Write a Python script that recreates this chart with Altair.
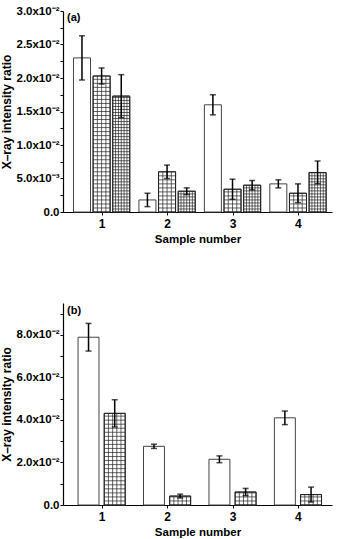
import altair as alt
import pandas as pd

# ---------------- data ----------------
samples = [1, 2, 3, 4]

# panel (a)
a_white = [0.0230, 0.0018, 0.0160, 0.0042]
a_white_err = [0.0033, 0.0010, 0.0015, 0.0006]
a_grid = [0.0203, 0.0060, 0.0034, 0.0028]
a_grid_err = [0.0012, 0.0010, 0.0015, 0.0014]
a_dense = [0.0173, 0.0031, 0.0040, 0.0059]
a_dense_err = [0.0032, 0.0005, 0.0007, 0.0017]
a_yticks = [0.0, 0.0025, 0.005, 0.0075, 0.01, 0.0125, 0.015, 0.0175,
            0.02, 0.0225, 0.025, 0.0275, 0.03]

# panel (b)
b_white = [0.0789, 0.0276, 0.0215, 0.0410]
b_white_err = [0.0065, 0.0010, 0.0016, 0.0032]
b_grid = [0.0431, 0.0042, 0.0061, 0.0049]
b_grid_err = [0.0064, 0.0009, 0.0017, 0.0035]
b_yticks = [0.0, 0.01, 0.02, 0.03, 0.04, 0.05, 0.06, 0.07, 0.08, 0.09]

FONT = "Liberation Sans"
XDOM = [0.41, 4.52]
W = 269


def bars(offset, half_w, values):
    return pd.DataFrame({
        "x": [s + offset - half_w for s in samples],
        "x2": [s + offset + half_w for s in samples],
        "y": [0.0] * len(values),
        "y2": values,
    })


def errs(offset, values, errors):
    return pd.DataFrame({
        "x": [s + offset for s in samples],
        "y": [v - e for v, e in zip(values, errors)],
        "y2": [v + e for v, e in zip(values, errors)],
    })


def caps(offset, values, errors):
    xs = [s + offset for s in samples]
    return pd.DataFrame({
        "x": xs + xs,
        "y": [v - e for v, e in zip(values, errors)] + [v + e for v, e in zip(values, errors)],
    })


def hatch(offset, half_w, values, ncols, dy):
    rows = []
    for s, v in zip(samples, values):
        x0, x1 = s + offset - half_w, s + offset + half_w
        step = (x1 - x0) / ncols
        for k in range(1, ncols):
            xx = x0 + k * step
            rows.append({"x": xx, "x2": xx, "y": 0.0, "y2": v})
        j = 1
        while j * dy < v - 1e-12:
            rows.append({"x": x0, "x2": x1, "y": j * dy, "y2": j * dy})
            j += 1
    return pd.DataFrame(rows)


def panel(series, ydom, height, yticks, label_expr, tag, tag_y):
    xenc = alt.X("x:Q", scale=alt.Scale(domain=XDOM, nice=False, zero=False),
                 axis=alt.Axis(values=samples, title="Sample number", format="d",
                               tickSize=3, labelPadding=3, titlePadding=4,
                               labelFontSize=12, titleFontSize=11.5))
    yenc = alt.Y("y:Q", scale=alt.Scale(domain=ydom, nice=False),
                 axis=alt.Axis(values=yticks, labelExpr=label_expr, labelOverlap=False,
                               title="X\u2013ray intensity ratio",
                               tickSize=3, labelPadding=1, titlePadding=2,
                               labelFontSize=11.5, titleFontSize=12))
    layers = []
    for (offset, half_w, vals, errv, ncols, dy) in series:
        bdf = bars(offset, half_w, vals)
        layers.append(alt.Chart(bdf).mark_bar(fill="white", stroke="#444", strokeWidth=1)
                      .encode(x=xenc, x2="x2:Q", y=yenc, y2="y2:Q"))
        if ncols:
            hdf = hatch(offset, half_w, vals, ncols, dy)
            layers.append(alt.Chart(hdf).mark_rule(color="#222", strokeWidth=0.7)
                          .encode(x=xenc, x2="x2:Q", y=yenc, y2="y2:Q"))
            layers.append(alt.Chart(bdf).mark_bar(fill=None, stroke="#222", strokeWidth=1)
                          .encode(x=xenc, x2="x2:Q", y=yenc, y2="y2:Q"))
        edf = errs(offset, vals, errv)
        layers.append(alt.Chart(edf).mark_rule(color="black", strokeWidth=1.5)
                      .encode(x=xenc, y=yenc, y2="y2:Q"))
        cdf = caps(offset, vals, errv)
        layers.append(alt.Chart(cdf).mark_tick(color="black", thickness=1.5, size=6,
                                               orient="horizontal")
                      .encode(x=xenc, y=yenc))
    layers.append(alt.Chart(pd.DataFrame({"t": [tag]})).mark_text(
        align="left", baseline="middle", font=FONT, fontWeight="bold", fontSize=11,
        color="black").encode(x=alt.value(4), y=alt.value(tag_y), text="t:N"))
    return alt.layer(*layers).properties(width=W, height=height)


a_expr = ("datum.value == 0 ? '0.0' : (abs(datum.value / 0.005 - round(datum.value / 0.005)) > 0.01 ? '' : "
          "(datum.value < 0.0099 ? format(datum.value * 1000, '.1f') + 'x10\u207b\u00b3' : "
          "format(datum.value * 100, '.1f') + 'x10\u207b\u00b2'))")
b_expr = ("datum.value == 0 ? '0.0' : (abs(datum.value / 0.02 - round(datum.value / 0.02)) > 0.01 ? '' : "
          "format(datum.value * 100, '.1f') + 'x10\u207b\u00b2')")

pa = panel([(-0.30, 0.13, a_white, a_white_err, 0, 0),
            (0.0, 0.13, a_grid, a_grid_err, 4, 0.0006),
            (0.30, 0.13, a_dense, a_dense_err, 6, 0.00045)],
           [0, 0.03], 201, a_yticks, a_expr, "(a)", 7)
pb = panel([(-0.20, 0.16, b_white, b_white_err, 0, 0),
            (0.20, 0.16, b_grid, b_grid_err, 5, 0.0019)],
           [0, 0.095], 202, b_yticks, b_expr, "(b)", 8)

chart = alt.vconcat(pa, pb, spacing=91, bounds="flush").properties(
    padding={"left": 0, "top": 5, "right": 5, "bottom": 5}
).configure(font=FONT).configure_view(stroke=None).configure_axis(
    grid=False, domainColor="black", domainWidth=1.2, tickColor="black", tickWidth=1,
    labelColor="black", titleColor="black", labelFont=FONT, titleFont=FONT,
    labelFontWeight="bold", titleFontWeight="bold"
)

chart.save("out.html", embed_options={"renderer": "svg", "actions": False})
